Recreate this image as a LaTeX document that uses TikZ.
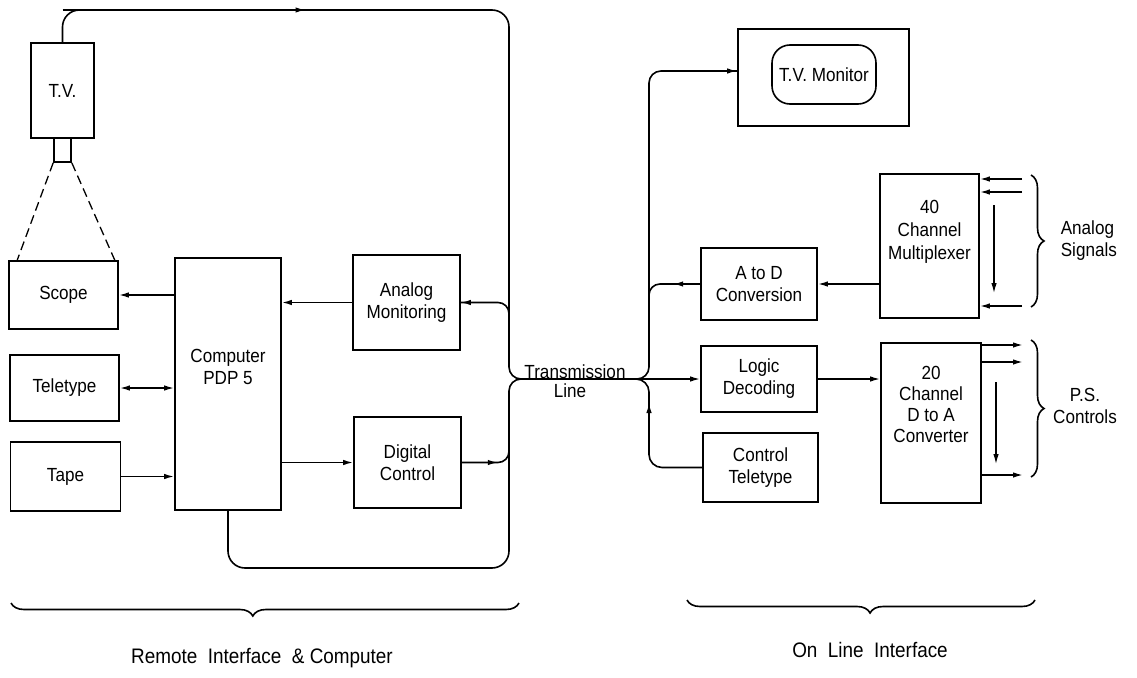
\documentclass[tikz,border=0pt]{standalone}
\usepackage{fontspec}
\setmainfont{Liberation Sans}[FakeStretch=0.9]
\usetikzlibrary{arrows.meta,decorations.pathreplacing,calc}
\begin{document}
\begin{tikzpicture}[x=1pt,y=-1pt,
  line width=1.6pt,
  box/.style={draw, line width=1.6pt, inner sep=0pt, align=center, font=\fontsize{19}{22}\selectfont},
  arr/.style={-{Latex[length=10pt,width=5.5pt]}},
  barr/.style={{Latex[length=10pt,width=5.5pt]}-{Latex[length=10pt,width=5.5pt]}},
  lbl/.style={font=\fontsize{19}{22}\selectfont, inner sep=0pt, align=center},
  big/.style={font=\fontsize{21}{25}\selectfont, inner sep=0pt},
  hbrace/.style={decorate,decoration={brace,amplitude=13pt,mirror,aspect=#1}},
  vbrace/.style={decorate,decoration={brace,amplitude=13pt}},
]
\useasboundingbox (0,0) rectangle (1137,677);

% ---------- left (remote) ----------
\node[box, minimum width=63pt, minimum height=95pt] (tv) at (62.5,90.5) {T.V.};
\node[box, minimum width=17pt, minimum height=24pt] (neck) at (62.5,150) {};
\node[box, minimum width=109pt, minimum height=68pt] (scope) at (63.5,295) {Scope};
\node[box, minimum width=109pt, minimum height=66pt] (tty) at (64.5,388) {Teletype};
\node[box, minimum width=110pt, minimum height=69pt] (tape) at (65.5,476.5) {Tape};
\node[box, minimum width=106pt, minimum height=252pt] (comp) at (228,384) {};
\node[lbl] (compt) at (228,367) {Computer\\PDP 5};
\node[box, minimum width=107pt, minimum height=95pt] (analog) at (406.5,302.5) {Analog\\Monitoring};
\node[box, minimum width=107pt, minimum height=91pt] (digital) at (407.5,462.5) {Digital\\Control};

% ---------- right (on line) ----------
\node[box, minimum width=171pt, minimum height=97pt] (tvmon) at (823.5,77.5) {};
\node[box, rounded corners=18pt, minimum width=104pt, minimum height=59pt] (tvscr) at (824,74.5) {T.V. Monitor};
\node[box, minimum width=116pt, minimum height=72pt] (atod) at (759,284) {A to D\\Conversion};
\node[box, minimum width=99pt, minimum height=144pt] (mux) at (929.5,246) {};
\node[lbl, font=\fontsize{19}{23}\selectfont] (muxt) at (929.5,232) {40\\Channel\\Multiplexer};
\node[box, minimum width=116pt, minimum height=66pt] (logic) at (759,379) {Logic\\Decoding};
\node[box, minimum width=115pt, minimum height=69pt] (ctrl) at (760.5,467.5) {Control\\Teletype};
\node[box, minimum width=100pt, minimum height=160pt] (dtoa) at (931,423) {};
\node[lbl, font=\fontsize{19}{21}\selectfont] (dtoat) at (931,404) {20\\Channel\\D to A\\Converter};

% ---------- bus coordinates ----------
\coordinate (tvtop) at (62.5,10);
\coordinate (busTR) at (509,10);
\coordinate (jL) at (509,379);
\coordinate (jR) at (649,379);
\coordinate (busBR) at (509,568);
\coordinate (busBL) at (comp.south |- busBR);

% T.V. camera to bus
\draw[rounded corners=17pt] (tv.north) -- (tvtop) -- (busTR) -- ($(jL)+(0,-40)$);
\draw[arr] (tvtop) -- ($(tvtop)+(243,0)$);
\draw[rounded corners=12pt] ($(jL)+(0,-60)$) -- (jL) -- ($(jL)+(14,0)$);
\draw[rounded corners=12pt] ($(jL)+(14,0)$) -- (jL) -- ($(jL)+(0,60)$);
\draw[rounded corners=17pt] ($(jL)+(0,40)$) -- (busBR) -- (busBL) -- (comp.south);

% camera optics
\draw[dash pattern=on 9pt off 5pt, line width=1.3pt] (neck.south west) -- ($(scope.north west)+(9,0)$);
\draw[dash pattern=on 9pt off 5pt, line width=1.3pt] (neck.south east) -- ($(scope.north east)+(-4,0)$);

% computer connections
\draw[arr] (comp.west |- scope.east) -- (scope.east);
\draw[barr] (tty.east) -- (tty.east -| comp.west);
\draw[arr] (tape.east) -- (tape.east -| comp.west);
\draw[arr] (analog.west) -- (analog.west -| comp.east);
\draw[arr] (comp.east |- digital.west) -- (digital.west);

% bus to analog monitoring
\draw[rounded corners=11pt] ($(jL |- analog.east)+(0,16)$) -- (jL |- analog.east) -- (analog.east);
\draw[arr] ($(jL |- analog.east)+(-10,0)$) -- (analog.east);
% digital control to bus
\draw[rounded corners=11pt] (digital.east) -- (jL |- digital.east) -- ($(jL |- digital.east)+(0,-16)$);
\draw[arr] (digital.east) -- ($(digital.east)+(36,0)$);

% transmission line
\draw[arr] ($(jL)+(10,0)$) -- (logic.west);
\node[lbl, anchor=base] (tl1) at (575,378) {Transmission};
\node[lbl, anchor=base] (tl2) at (570,397) {Line};

% right branches
\coordinate (tvin) at ($(tvmon.west)+(0,-6.5)$);
\draw[rounded corners=12pt] ($(jR)+(-14,0)$) -- (jR) -- (jR |- tvin) -- (tvin);
\draw[arr] ($(tvin)+(-40,0)$) -- (tvin);
\draw[rounded corners=11pt] (atod.west) -- (jR |- atod.west) -- ($(jR |- atod.west)+(0,16)$);
\draw[arr] (atod.west) -- ($(atod.west)+(-27,0)$);
\draw[rounded corners=13pt] (ctrl.west) -- (jR |- ctrl.west) -- (jR) -- ($(jR)+(-14,0)$);
\draw[arr] ($(jR)+(0,50)$) -- ($(jR)+(0,24)$);

% multiplexer
\draw[arr] (mux.west |- atod.east) -- (atod.east);
\coordinate (ain1) at (1022,179);
\coordinate (ain2) at (1022,192);
\coordinate (ain3) at (1022,306);
\draw[arr] (ain1) -- (ain1 -| mux.east);
\draw[arr] (ain2) -- (ain2 -| mux.east);
\draw[arr] (ain3) -- (ain3 -| mux.east);
\coordinate (mv1) at (994,205);
\coordinate (mv2) at (994,293);
\draw[arr, line width=1.2pt] (mv1) -- (mv2);
\draw[vbrace] (1031,175) -- (1031,307);
\node[lbl, align=left, anchor=west] (asig) at (1060,241) {Analog\\Signals};

% D to A
\draw[arr] (logic.east) -- (logic.east -| dtoa.west);
\coordinate (dout1) at (1023,345);
\coordinate (dout2) at (1023,362);
\coordinate (dout3) at (1023,475);
\draw[arr] (dout1 -| dtoa.east) -- (dout1);
\draw[arr] (dout2 -| dtoa.east) -- (dout2);
\draw[arr] (dout3 -| dtoa.east) -- (dout3);
\coordinate (dv1) at (996,382);
\coordinate (dv2) at (996,464);
\draw[arr, line width=1.2pt] (dv1) -- (dv2);
\draw[vbrace] (1031,340) -- (1031,477);
\node[lbl] (psc) at (1085,406) {P.S.\\Controls};

% group braces
\draw[hbrace=0.476] (11,603) -- (519,603);
\node[big] (rl) at (262,658) {Remote\ \ Interface\ \ \&\ Computer};
\draw[hbrace=0.526] (687,600) -- (1035,600);
\node[big] (ol) at (870,650) {On\ \ Line\ \ Interface};
\end{tikzpicture}
\end{document}
